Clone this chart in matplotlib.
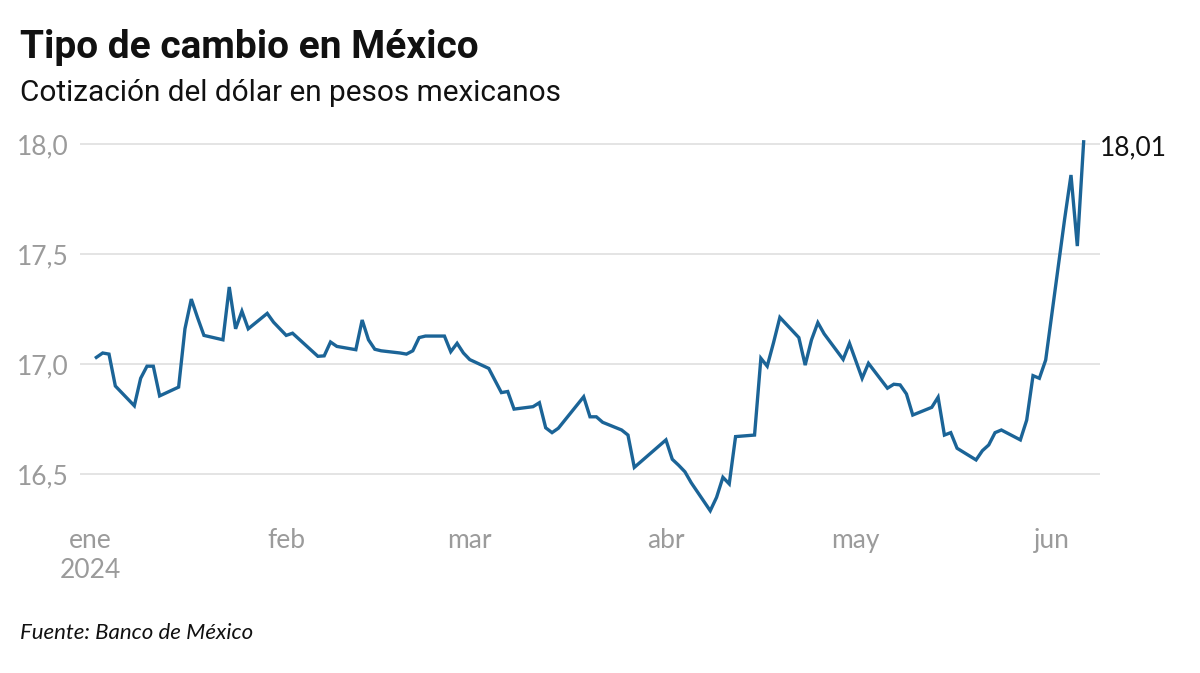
import matplotlib
matplotlib.use("Agg")
import matplotlib.pyplot as plt
import pandas as pd
from datetime import datetime

# ---------------- data ----------------
dates = [
    "2024-01-02", "2024-01-03", "2024-01-04", "2024-01-05", "2024-01-08", "2024-01-09",
    "2024-01-10", "2024-01-11", "2024-01-12", "2024-01-15", "2024-01-16", "2024-01-17",
    "2024-01-18", "2024-01-19", "2024-01-22", "2024-01-23", "2024-01-24", "2024-01-25",
    "2024-01-26", "2024-01-29", "2024-01-30", "2024-01-31", "2024-02-01", "2024-02-02",
    "2024-02-06", "2024-02-07", "2024-02-08", "2024-02-09", "2024-02-12", "2024-02-13",
    "2024-02-14", "2024-02-15", "2024-02-16", "2024-02-19", "2024-02-20", "2024-02-21",
    "2024-02-22", "2024-02-23", "2024-02-26", "2024-02-27", "2024-02-28", "2024-02-29",
    "2024-03-01", "2024-03-04", "2024-03-05", "2024-03-06", "2024-03-07", "2024-03-08",
    "2024-03-11", "2024-03-12", "2024-03-13", "2024-03-14", "2024-03-15", "2024-03-19",
    "2024-03-20", "2024-03-21", "2024-03-22", "2024-03-25", "2024-03-26", "2024-03-27",
    "2024-04-01", "2024-04-02", "2024-04-03", "2024-04-04", "2024-04-05", "2024-04-08",
    "2024-04-09", "2024-04-10", "2024-04-11", "2024-04-12", "2024-04-15", "2024-04-16",
    "2024-04-17", "2024-04-18", "2024-04-19", "2024-04-22", "2024-04-23", "2024-04-24",
    "2024-04-25", "2024-04-26", "2024-04-29", "2024-04-30", "2024-05-02", "2024-05-03",
    "2024-05-06", "2024-05-07", "2024-05-08", "2024-05-09", "2024-05-10", "2024-05-13",
    "2024-05-14", "2024-05-15", "2024-05-16", "2024-05-17", "2024-05-20", "2024-05-21",
    "2024-05-22", "2024-05-23", "2024-05-24", "2024-05-27", "2024-05-28", "2024-05-29",
    "2024-05-30", "2024-05-31", "2024-06-03", "2024-06-04", "2024-06-05", "2024-06-06",
]
rates = [
    17.03, 17.05, 17.045, 16.90, 16.81, 16.935,
    16.99, 16.99, 16.855, 16.895, 17.16, 17.295,
    17.21, 17.13, 17.11, 17.35, 17.16, 17.24,
    17.16, 17.23, 17.19, 17.16, 17.13, 17.14,
    17.035, 17.037, 17.10, 17.08, 17.065, 17.20,
    17.11, 17.067, 17.06, 17.05, 17.045, 17.06,
    17.12, 17.127, 17.127, 17.056, 17.094, 17.05,
    17.02, 16.98, 16.925, 16.87, 16.875, 16.795,
    16.806, 16.824, 16.71, 16.688, 16.708, 16.851,
    16.76, 16.76, 16.735, 16.70, 16.677, 16.53,
    16.655, 16.567, 16.54, 16.51, 16.46, 16.333,
    16.394, 16.485, 16.455, 16.67, 16.677, 17.026,
    16.99, 17.097, 17.212, 17.12, 16.995, 17.11,
    17.188, 17.137, 17.021, 17.094, 16.935, 17.003,
    16.89, 16.908, 16.905, 16.864, 16.768, 16.803,
    16.849, 16.677, 16.688, 16.617, 16.564, 16.606,
    16.632, 16.688, 16.70, 16.655, 16.745, 16.947,
    16.935, 17.018, 17.66, 17.859, 17.536, 18.01,
]
y_ticks = [16.5, 17.0, 17.5, 18.0]
y_tick_labels = ["16,5", "17,0", "17,5", "18,0"]
x_tick_dates = ["2024-01-01", "2024-02-01", "2024-03-01", "2024-04-01", "2024-05-01", "2024-06-01"]
x_tick_labels = ["ene\n2024", "feb", "mar", "abr", "may", "jun"]
last_label = "18,01"

title = "Tipo de cambio en México"
subtitle = "Cotización del dólar en pesos mexicanos"
source = "Fuente: Banco de México"

# ---------------- figure ----------------
W, H = 1200, 673
fig = plt.figure(figsize=(W / 100, H / 100), dpi=100)
fig.patch.set_facecolor("white")

ax_left, ax_right = 80, 1100
ax_top, ax_bottom = 122, 518
ax = fig.add_axes([ax_left / W, 1 - ax_bottom / H, (ax_right - ax_left) / W, (ax_bottom - ax_top) / H])

x = pd.to_datetime(dates)
line_color = "#1b6497"
ax.plot(x, rates, color=line_color, lw=2.4, solid_joinstyle="miter", zorder=3)

ax.set_xlim(datetime(2023, 12, 30, 10), datetime(2024, 6, 8, 14))
ax.set_ylim(16.3, 18.1)

ax.set_yticks(y_ticks)
ax.set_yticklabels(y_tick_labels)
ax.set_xticks(pd.to_datetime(x_tick_dates))
ax.set_xticklabels(x_tick_labels, linespacing=1.25)

for lab in ax.get_yticklabels() + ax.get_xticklabels():
    lab.set_fontfamily("Lato")
    lab.set_fontsize(19)
    lab.set_color("#9b9b9b")

ax.tick_params(axis="y", length=0, pad=8.5)
ax.tick_params(axis="x", length=0, pad=7)
ax.grid(axis="y", color="#dddddd", lw=1.1)
ax.grid(axis="x", visible=False)
for sp in ax.spines.values():
    sp.set_visible(False)
ax.set_axisbelow(True)

# end label
ax.annotate(last_label, xy=(x[-1], rates[-1]), xytext=(12, -4), textcoords="offset points",
            fontfamily="Lato", fontsize=19, color="#111111", va="center", ha="left")

# ---------------- titles ----------------
renderer = fig.canvas.get_renderer()


def fit_text(s, px, py, target_w, **kw):
    t = fig.text(px / W, 1 - py / H, s, fontsize=20, va="baseline", ha="left", **kw)
    w = t.get_window_extent(renderer).width
    t.set_fontsize(20 * target_w / w)
    return t


fit_text(title, 20, 58, 458, family="Roboto", weight="bold", color="#111111")
fit_text(subtitle, 20, 101, 540, family="Roboto", color="#111111")
fit_text(source, 20, 639, 233, family="Lato", style="italic", color="#111111")

fig.savefig("out.png", dpi=100, facecolor="white")
